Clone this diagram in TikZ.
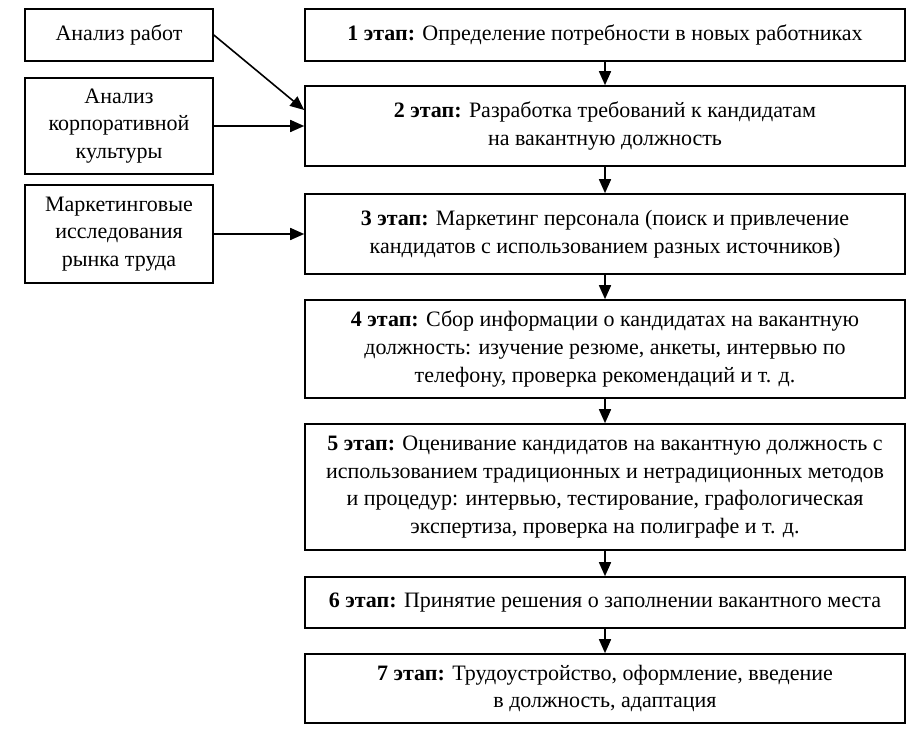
\documentclass[tikz,border=0pt]{standalone}
\usepackage{fontspec}
\setmainfont{Liberation Serif}
\usetikzlibrary{arrows.meta}

\begin{document}
\begin{tikzpicture}[x=0.5pt,y=-0.5pt,
  box/.style={draw,line width=0.8pt,align=center,inner sep=0pt,
    font=\fontsize{11}{13.8}\selectfont},
  src/.style={box,minimum width=94pt},
  stage/.style={box,minimum width=300pt},
  arr/.style={-{Triangle[length=7pt,width=6pt]},line width=0.8pt}]

\useasboundingbox (0,0) rectangle (919,732);

\node[src,minimum height=26pt] (jobs) at (119,35) {Анализ работ};
\node[src,minimum height=48pt] (culture) at (119,126) {Анализ\\корпоративной\\культуры};
\node[src,minimum height=49pt] (market) at (119,234) {Маркетинговые\\исследования\\рынка труда};

\node[stage,minimum height=26pt] (s1) at (605,35)
  {\textbf{1 этап:} Определение потребности в новых работниках};
\node[stage,minimum height=40pt] (s2) at (605,126)
  {\textbf{2 этап:} Разработка требований к кандидатам\\на вакантную должность};
\node[stage,minimum height=40pt] (s3) at (605,234)
  {\textbf{3 этап:} Маркетинг персонала (поиск и привлечение\\кандидатов с использованием разных источников)};
\node[stage,minimum height=49pt] (s4) at (605,349)
  {\textbf{4 этап:} Сбор информации о кандидатах на вакантную\\должность: изучение резюме, анкеты, интервью по\\телефону, проверка рекомендаций и т. д.};
\node[stage,minimum height=63pt] (s5) at (605,487)
  {\textbf{5 этап:} Оценивание кандидатов на вакантную должность с\\использованием традиционных и нетрадиционных методов\\и процедур: интервью, тестирование, графологическая\\экспертиза, проверка на полиграфе и т. д.};
\node[stage,minimum height=25.5pt] (s6) at (605,602.5)
  {\textbf{6 этап:} Принятие решения о заполнении вакантного места};
\node[stage,minimum height=34.5pt] (s7) at (605,688.5)
  {\textbf{7 этап:} Трудоустройство, оформление, введение\\в должность, адаптация};

\foreach \a/\b in {s1/s2,s2/s3,s3/s4,s4/s5,s5/s6,s6/s7}
  \draw[arr] (\a.south) -- (\b.north);

\draw[arr] (jobs.east) -- ([yshift=8pt]s2.west);
\draw[arr] (culture.east) -- (s2.west);
\draw[arr] (market.east) -- (s3.west);
\end{tikzpicture}
\end{document}
